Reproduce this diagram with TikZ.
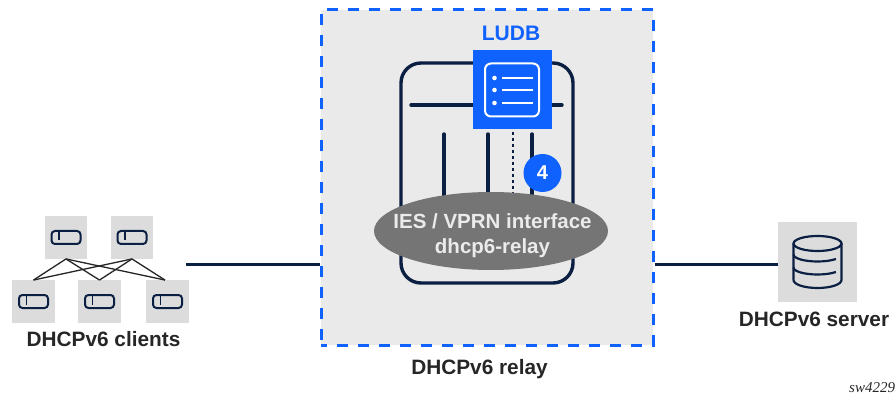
\documentclass[tikz,border=0pt]{standalone}
\usepackage{fontspec}
\setmainfont{Liberation Sans}
\newfontfamily\serifit{Liberation Serif}
\usetikzlibrary{shapes.geometric,calc}
\definecolor{navy}{HTML}{0B1F42}
\definecolor{bluex}{HTML}{0F62FE}
\definecolor{boxg}{HTML}{DCDCDC}
\definecolor{relayg}{HTML}{EAEAEA}
\definecolor{ellg}{HTML}{757575}
\definecolor{txt}{HTML}{262626}
\tikzset{
 devbox/.style={fill=boxg,minimum size=#1,inner sep=0pt,draw=none},
 lbl/.style={font=\fontsize{20.8}{25}\selectfont\bfseries,text=txt,inner sep=0pt},
 wire/.style={draw=navy,line width=3pt},
 mesh/.style={draw=txt,line width=1.3pt},
 bar/.style={draw=navy,line width=3.4pt,line cap=round},
}
\newcommand{\cardicon}[1]{%
 \draw[navy,line width=2pt,rounded corners=3.5pt] ($(#1)+(-14.5,-6.5)$) rectangle ($(#1)+(14.5,6.5)$);
 \draw[navy,line width=1.8pt] ($(#1)+(-7,-6.5)$) -- ($(#1)+(-7,3)$);
}
\begin{document}
\begin{tikzpicture}[x=1pt,y=-1pt]
\useasboundingbox (0,0) rectangle (896,395);
% relay
\node[fill=relayg,draw=bluex,line width=3pt,dash pattern=on 11pt off 10pt,dash phase=5pt,minimum width=332pt,minimum height=335pt,inner sep=0pt] (relay) at (487,177.5) {};
% chassis
\node[draw=navy,line width=3.4pt,rounded corners=20pt,minimum width=172pt,minimum height=220pt,inner sep=0pt] (chassis) at (487,173) {};
\coordinate (hl) at (411,105); \coordinate (hr) at (562,105);
\draw[bar] (hl) -- (hr);
\coordinate (v1t) at (444,134); \coordinate (v1b) at (444,200);
\coordinate (v2t) at (488,134); \coordinate (v2b) at (488,200);
\coordinate (v3t) at (532,134); \coordinate (v3b) at (532,200);
\coordinate (dt) at (513,132); \coordinate (db) at (513,200);
\draw[bar] (v1t) -- (v1b);
\draw[bar] (v2t) -- (v2b);
\draw[bar] (v3t) -- (v3b);
\draw[navy,line width=2.8pt,dash pattern=on 2.8pt off 3.2pt] (dt) -- (db);
% LUDB
\node[fill=bluex,minimum size=79pt,inner sep=0pt] (ludb) at (512,90) {};
\draw[white,line width=2pt,rounded corners=6pt] (485,63.5) rectangle (539,116.5);
\foreach \y in {78,90,103}{
 \fill[white] (494.5,\y) circle (2.3pt);
 \draw[white,line width=1.8pt] (502,\y) -- (533,\y);
}
\node[font=\fontsize{21}{25}\selectfont\bfseries,text=bluex,inner sep=0pt] (ludbt) at (511,33) {LUDB};
% badge
\node[circle,fill=bluex,minimum size=38pt,inner sep=0pt,text=white,font=\fontsize{20}{24}\selectfont\bfseries] (badge) at (542.5,173) {4};
% ellipse
\node[ellipse,fill=ellg,minimum width=234pt,minimum height=78pt,inner sep=0pt] (ies) at (491,231) {};
\node[text=white!92!black,align=center,inner sep=0pt,font=\fontsize{20.5}{25}\selectfont\bfseries] (iest) at (492.5,235.5) {IES / VPRN interface\\dhcp6-relay};
\node[lbl] (relayt) at (479.5,369) {DHCPv6 relay};
% clients
\node[devbox=42.5pt] (c1) at (66,237.5) {};
\node[devbox=42.5pt] (c2) at (132,237.5) {};
\node[devbox=42.5pt] (c3) at (33.5,301.5) {};
\node[devbox=42.5pt] (c4) at (99.5,301.5) {};
\node[devbox=42.5pt] (c5) at (167.5,301.5) {};
\foreach \a in {c1,c2}\foreach \b in {c3,c4}{\draw[mesh] (\a.south) -- (\b.north);}
\foreach \a in {c1,c2}{\draw[mesh] (\a.south) -- ([xshift=-2.5pt]c5.north);}
\foreach \n in {c1,c2,c3,c4,c5}{\cardicon{\n}}
\node[lbl] (clientst) at (103.5,339.5) {DHCPv6 clients};
% server
\node[devbox=79pt] (srv) at (817.5,262) {};
\draw[navy,line width=2.2pt] (793.5,243.5) -- (793.5,280) arc[start angle=180,end angle=360,x radius=24,y radius=-8] -- (841.5,243.5);
\draw[navy,line width=2.2pt] (817.5,243.5) ellipse[x radius=24,y radius=7.5];
\draw[navy,line width=2.2pt] (793.5,254.5) arc[start angle=180,end angle=320,x radius=24,y radius=-7];
\draw[navy,line width=2.2pt] (793.5,267.5) arc[start angle=180,end angle=320,x radius=24,y radius=-7];
\node[lbl] (srvt) at (814,319) {DHCPv6 server};
% wires
\coordinate (wl) at (186,264);
\draw[wire] (wl) -- (relay.west |- wl);
\draw[wire] (relay.east |- wl) -- (srv.west |- wl);
\node[font=\serifit\itshape\fontsize{15}{17}\selectfont,text=txt,anchor=west,inner sep=0pt] (sw) at (849,387.5) {sw4229};
\end{tikzpicture}
\end{document}
